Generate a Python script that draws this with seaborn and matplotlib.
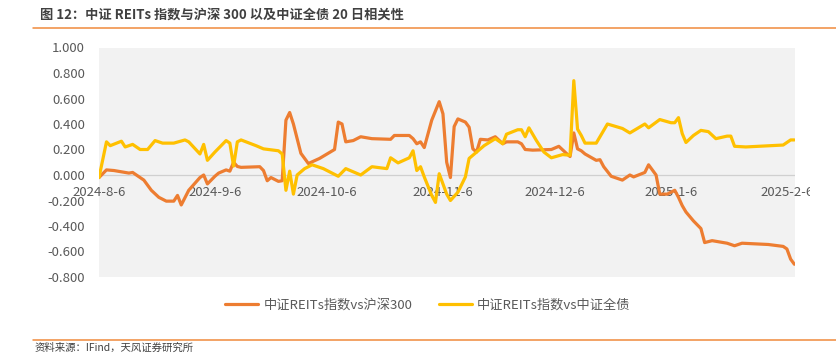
import pandas as pd
import seaborn as sns
import matplotlib.pyplot as plt
from matplotlib import ticker
from matplotlib.lines import Line2D
from matplotlib.patches import Rectangle

# Correlação 20 dias: REITs vs 沪深300 (laranja)
datas_hs300 = ['2024-08-06', '2024-08-08', '2024-08-10', '2024-08-14', '2024-08-15', '2024-08-18',
               '2024-08-20', '2024-08-22', '2024-08-24', '2024-08-26', '2024-08-27', '2024-08-28',
               '2024-08-30', '2024-09-02', '2024-09-03', '2024-09-04', '2024-09-06', '2024-09-07',
               '2024-09-09', '2024-09-10', '2024-09-11', '2024-09-12', '2024-09-13', '2024-09-18',
               '2024-09-19', '2024-09-20', '2024-09-21', '2024-09-23', '2024-09-24', '2024-09-25',
               '2024-09-26', '2024-09-27', '2024-09-29', '2024-10-01', '2024-10-04', '2024-10-08',
               '2024-10-09', '2024-10-10', '2024-10-11', '2024-10-13', '2024-10-15', '2024-10-18',
               '2024-10-23', '2024-10-24', '2024-10-28', '2024-10-29', '2024-10-30', '2024-10-31',
               '2024-11-01', '2024-11-03', '2024-11-05', '2024-11-06', '2024-11-07', '2024-11-08',
               '2024-11-09', '2024-11-10', '2024-11-12', '2024-11-13', '2024-11-14', '2024-11-15',
               '2024-11-16', '2024-11-18', '2024-11-20', '2024-11-22', '2024-11-23', '2024-11-26',
               '2024-11-27', '2024-11-28', '2024-11-30', '2024-12-05', '2024-12-07', '2024-12-09',
               '2024-12-10', '2024-12-11', '2024-12-12', '2024-12-13', '2024-12-14', '2024-12-17',
               '2024-12-18', '2024-12-19', '2024-12-21', '2024-12-24', '2024-12-26', '2024-12-27',
               '2024-12-30', '2024-12-31', '2025-01-02', '2025-01-03', '2025-01-05', '2025-01-07',
               '2025-01-08', '2025-01-09', '2025-01-10', '2025-01-12', '2025-01-14', '2025-01-15',
               '2025-01-17', '2025-01-21', '2025-01-23', '2025-01-25', '2025-02-01', '2025-02-05',
               '2025-02-06', '2025-02-07', '2025-02-08']
corr_hs300 = [-0.02, 0.04, 0.035, 0.015, 0.02, -0.04,
              -0.12, -0.175, -0.205, -0.205, -0.16, -0.235,
              -0.12, -0.02, 0.0, -0.07, -0.01, 0.015,
              0.04, 0.03, 0.10, 0.067, 0.06, 0.065,
              0.035, -0.045, -0.02, -0.05, -0.045, 0.43,
              0.49, 0.40, 0.17, 0.09, 0.13, 0.20,
              0.415, 0.40, 0.26, 0.27, 0.30, 0.285,
              0.28, 0.31, 0.31, 0.285, 0.245, 0.26,
              0.215, 0.43, 0.575, 0.48, 0.10, -0.02,
              0.38, 0.44, 0.415, 0.375, 0.205, 0.18,
              0.28, 0.275, 0.30, 0.245, 0.26, 0.26,
              0.245, 0.20, 0.195, 0.20, 0.225, 0.17,
              0.145, 0.33, 0.205, 0.19, 0.165, 0.115,
              0.12, 0.065, -0.01, -0.04, 0.0, -0.015,
              0.02, 0.08, 0.0, -0.15, -0.15, -0.12,
              -0.175, -0.24, -0.29, -0.36, -0.42, -0.53,
              -0.515, -0.535, -0.555, -0.535, -0.545, -0.56,
              -0.58, -0.66, -0.70]

# Correlação 20 dias: REITs vs 中证全债 (amarelo)
datas_zzqz = ['2024-08-06', '2024-08-08', '2024-08-09', '2024-08-12', '2024-08-13', '2024-08-15',
              '2024-08-17', '2024-08-19', '2024-08-21', '2024-08-23', '2024-08-26', '2024-08-29',
              '2024-08-30', '2024-09-02', '2024-09-03', '2024-09-04', '2024-09-06', '2024-09-09',
              '2024-09-10', '2024-09-11', '2024-09-12', '2024-09-13', '2024-09-17', '2024-09-19',
              '2024-09-23', '2024-09-24', '2024-09-25', '2024-09-26', '2024-09-27', '2024-09-28',
              '2024-09-30', '2024-10-02', '2024-10-05', '2024-10-09', '2024-10-11', '2024-10-15',
              '2024-10-18', '2024-10-22', '2024-10-23', '2024-10-25', '2024-10-28', '2024-10-29',
              '2024-10-30', '2024-10-31', '2024-11-01', '2024-11-03', '2024-11-04', '2024-11-05',
              '2024-11-07', '2024-11-08', '2024-11-10', '2024-11-12', '2024-11-13', '2024-11-14',
              '2024-11-17', '2024-11-20', '2024-11-22', '2024-11-23', '2024-11-26', '2024-11-27',
              '2024-11-28', '2024-11-29', '2024-12-01', '2024-12-03', '2024-12-05', '2024-12-08',
              '2024-12-10', '2024-12-11', '2024-12-12', '2024-12-13', '2024-12-14', '2024-12-17',
              '2024-12-20', '2024-12-24', '2024-12-26', '2024-12-28', '2024-12-30', '2024-12-31',
              '2025-01-03', '2025-01-06', '2025-01-07', '2025-01-08', '2025-01-09', '2025-01-10',
              '2025-01-12', '2025-01-14', '2025-01-16', '2025-01-18', '2025-01-21', '2025-01-22',
              '2025-01-23', '2025-01-26', '2025-02-05', '2025-02-07', '2025-02-08']
corr_zzqz = [-0.02, 0.26, 0.23, 0.265, 0.22, 0.24,
             0.20, 0.20, 0.27, 0.25, 0.25, 0.275,
             0.26, 0.165, 0.24, 0.115, 0.18, 0.27,
             0.25, 0.07, 0.26, 0.275, 0.23, 0.205,
             0.19, 0.165, -0.12, 0.03, -0.15, 0.0,
             0.05, 0.08, 0.05, -0.01, 0.05, 0.0,
             0.065, 0.05, 0.135, 0.095, 0.135, 0.19,
             0.035, 0.065, -0.015, -0.16, -0.215, 0.01,
             -0.15, -0.20, -0.135, -0.015, 0.13, 0.155,
             0.23, 0.285, 0.245, 0.32, 0.355, 0.355,
             0.30, 0.37, 0.27, 0.18, 0.135, 0.16,
             0.155, 0.74, 0.36, 0.31, 0.25, 0.25,
             0.40, 0.365, 0.33, 0.365, 0.40, 0.37,
             0.435, 0.41, 0.41, 0.45, 0.325, 0.255,
             0.31, 0.35, 0.34, 0.285, 0.305, 0.305,
             0.225, 0.22, 0.235, 0.275, 0.275]

series = ['中证REITs指数vs沪深300', '中证REITs指数vs中证全债']
cores = {series[0]: '#ED7D31', series[1]: '#FFC000'}

ticks_x = ['2024-08-06', '2024-09-06', '2024-10-06', '2024-11-06', '2024-12-06', '2025-01-06', '2025-02-06']
labels_x = ['2024-8-6', '2024-9-6', '2024-10-6', '2024-11-6', '2024-12-6', '2025-1-6', '2025-2-6']
ticks_y = [-0.8, -0.6, -0.4, -0.2, 0.0, 0.2, 0.4, 0.6, 0.8, 1.0]

titulo = '图 12：中证 REITs 指数与沪深 300 以及中证全债 20 日相关性'
fonte = '资料来源：IFind，天风证券研究所'

# Montando o DataFrame no formato longo
df1 = pd.DataFrame({'Data': pd.to_datetime(datas_hs300), 'Corr': corr_hs300, 'Serie': series[0]})
df2 = pd.DataFrame({'Data': pd.to_datetime(datas_zzqz), 'Corr': corr_zzqz, 'Serie': series[1]})
dados = pd.concat([df1, df2], ignore_index=True)

sns.set_style('white')
plt.rcParams['font.family'] = ['Noto Sans CJK SC', 'DejaVu Sans']
plt.rcParams['axes.unicode_minus'] = False

W, H = 837, 361
fig = plt.figure(figsize=(W / 100, H / 100), dpi=100)
# Posição do eixo em pixels da imagem original
ax = fig.add_axes([99 / W, 1 - 277 / H, (795 - 99) / W, (277 - 47.5) / H])
ax.set_facecolor('#F2F2F2')

# Linha do zero
ax.axhline(0, color='#D0D0D0', lw=0.9, zorder=1)

sns.lineplot(data=dados, x='Data', y='Corr', hue='Serie', palette=cores, hue_order=series,
             linewidth=2.3, ax=ax, zorder=3)

ax.set_ylim(-0.8, 1.0)
ax.set_xlim(pd.Timestamp('2024-08-06'), pd.Timestamp('2025-02-08 04:00'))
ax.set_yticks(ticks_y)
ax.yaxis.set_major_formatter(ticker.FormatStrFormatter('%.3f'))
ax.set_xticks(pd.to_datetime(ticks_x))
ax.set_xticklabels(labels_x)

# Rótulos do eixo x ficam logo abaixo do zero
for lado in ['top', 'right', 'left', 'bottom']:
    ax.spines[lado].set_visible(False)
ax.spines['bottom'].set_position(('data', 0))
ax.tick_params(axis='x', length=0, pad=8, labelsize=9.5, labelcolor='#595959')
ax.tick_params(axis='y', length=0, pad=10, labelsize=9.5, labelcolor='#595959')
ax.set_xlabel('')
ax.set_ylabel('')

# Legenda embaixo
handles, labels = ax.get_legend_handles_labels()
ax.get_legend().remove()
fig.legend(handles=handles, labels=labels, loc='center', bbox_to_anchor=(428 / W, 1 - 305 / H),
           ncol=2, frameon=False, fontsize=9.5, handlelength=2.5, handletextpad=0.4,
           columnspacing=2.0, labelcolor='#595959')

# Título e linhas laranjas
fig.text(40 / W, 1 - 15 / H, titulo, fontsize=9.5, fontweight='bold', color='#404040', va='center')
fig.add_artist(Line2D([33 / W, 1], [1 - 28 / H] * 2, color='#F08A3C', lw=1.1))
fig.add_artist(Line2D([33 / W, 1], [1 - 340 / H] * 2, color='#F08A3C', lw=1.1))
fig.text(35 / W, 1 - 348 / H, fonte, fontsize=7.5, color='#404040', va='center')

# Corta o último rótulo como no original
fig.add_artist(Rectangle((810 / W, 1 - 202 / H), 30 / W, 20 / H, transform=fig.transFigure,
                         facecolor='white', edgecolor='none', zorder=10))

plt.savefig('out.png', dpi=100)
